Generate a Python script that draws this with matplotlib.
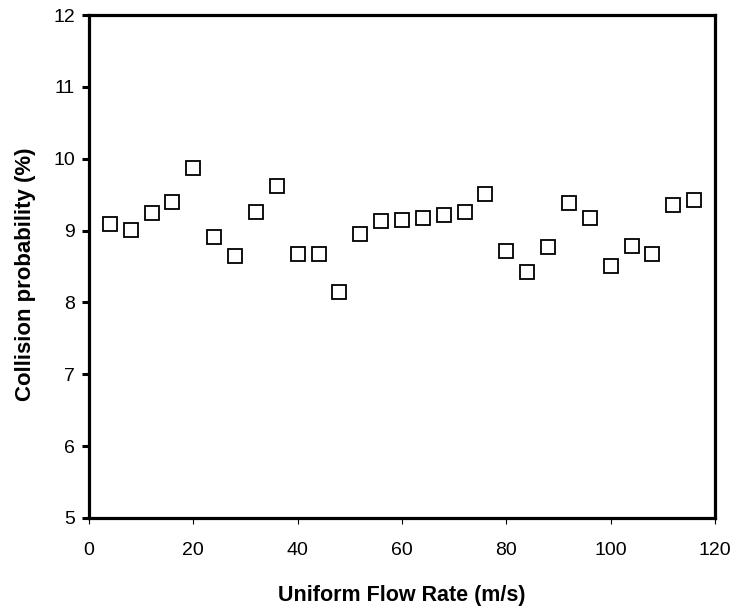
import matplotlib
matplotlib.use("Agg")
import matplotlib.pyplot as plt

flow_rate = [4, 8, 12, 16, 20, 24, 28, 32, 36, 40, 44, 48, 52, 56, 60,
             64, 68, 72, 76, 80, 84, 88, 92, 96, 100, 104, 108, 112, 116]
collision_prob = [9.09, 9.01, 9.24, 9.40, 9.87, 8.91, 8.65, 9.26, 9.62, 8.67,
                  8.67, 8.15, 8.95, 9.13, 9.15, 9.18, 9.21, 9.26, 9.51, 8.71,
                  8.43, 8.77, 9.38, 9.18, 8.51, 8.79, 8.68, 9.35, 9.43]
x_ticks = [0, 20, 40, 60, 80, 100, 120]
y_ticks = [5, 6, 7, 8, 9, 10, 11, 12]

plt.rcParams['font.family'] = ['Liberation Sans', 'DejaVu Sans']

fig = plt.figure(figsize=(7.35, 6.10), dpi=100)
ax = fig.add_axes([89/735, 1-518/610, (715-89)/735, (518-15)/610])

ax.plot(flow_rate, collision_prob, linestyle='none', marker='s',
        markersize=10.5, markerfacecolor='white', markeredgecolor='black',
        markeredgewidth=1.3, clip_on=False)

ax.set_xlim(0, 120)
ax.set_ylim(5, 12)
ax.set_xticks(x_ticks)
ax.set_yticks(y_ticks)
ax.set_xticklabels([str(t) for t in x_ticks])
ax.set_yticklabels([str(t) for t in y_ticks])

for s in ax.spines.values():
    s.set_linewidth(2.3)
    s.set_color('black')

ax.tick_params(axis='x', direction='out', length=4, width=0.8, pad=13,
               labelsize=14, top=False)
ax.tick_params(axis='y', direction='out', length=5, width=2.2, pad=5,
               labelsize=14, right=False)

ax.set_xlabel('Uniform Flow Rate (m/s)', fontsize=15.5, fontweight='bold',
              labelpad=19)
ax.set_ylabel('Collision probability (%)', fontsize=16, fontweight='bold')
ax.yaxis.set_label_coords(-0.085, 0.485)

fig.savefig('out.png', dpi=100, facecolor='white')
